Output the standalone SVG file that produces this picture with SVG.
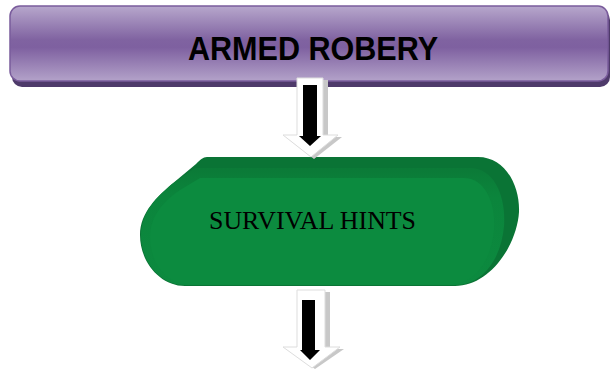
<svg xmlns="http://www.w3.org/2000/svg" width="610" height="369" viewBox="0 0 610 369">
<defs>
<linearGradient id="purple" x1="0" y1="0" x2="0" y2="1">
<stop offset="0" stop-color="#b7a7cc"/>
<stop offset="0.45" stop-color="#8063a1"/>
<stop offset="0.55" stop-color="#7e60a0"/>
<stop offset="1" stop-color="#b3a2c9"/>
</linearGradient>
<linearGradient id="green" x1="0" y1="0" x2="0" y2="1">
<stop offset="0" stop-color="#0b7a37"/>
<stop offset="0.25" stop-color="#0b853c"/>
<stop offset="1" stop-color="#0c8a3f"/>
</linearGradient>
<style>
.outer{fill:#ffffff;stroke:#dddddd;stroke-width:1}
.shade{fill:#c8c8c8}
.inner{fill:#000000}
</style>
</defs>
<g id="node-armed-robery">
<rect x="12" y="10" width="598" height="77" rx="10" fill="#4e3a6a"/>
<rect x="10" y="6" width="598" height="75" rx="10" fill="url(#purple)" stroke="#7a5c9c" stroke-width="1.5"/>
<text x="313" y="60" font-family="Liberation Sans, Arial, sans-serif" font-weight="bold" font-size="33" text-anchor="middle" textLength="250" lengthAdjust="spacingAndGlyphs" fill="#000000">ARMED ROBERY</text>
</g>
<g id="node-survival-hints">
<path d="M207,157 L478,157 C505,157 520,185 519,212 C517,245 490,286 455,286 L185,286 C160,286 140,262 140,235 C140,212 158,196 172,184 L196,164 C200,160 203,157 207,157 Z" fill="#0a7435"/>
<path d="M195,168 L470,168 C495,168 506,198 504,226 C501,260 482,285 455,285 L185,285 C160,285 141,262 141,235 C141,212 158,196 172,184 Z" fill="url(#green)"/>
<path d="M200,178 L464,178 C486,178 496,205 494,230 C491,262 474,284 452,284 L188,284 C165,284 150,262 150,237 C150,215 165,200 180,190 Z" fill="#0c8b3f"/>
<text x="209" y="229" font-family="Liberation Serif, 'Times New Roman', serif" font-size="25.5" textLength="207" lengthAdjust="spacingAndGlyphs" fill="#000000">SURVIVAL HINTS</text>
</g>
<g id="connectors">
<g id="arrow-1">
<path d="M300,80 L328,80 L328,137 L342,137 L314,159 L286,137 L300,137 Z" class="shade"/>
<path d="M297,78 L323,78 L323,135 L338,135 L311,157 L283,135 L297,135 Z" class="outer"/>
<path d="M303,85 L317,85 L317,136 L321,136 L310,146 L299,136 L303,136 Z" class="inner"/>
</g>
<g id="arrow-2">
<path d="M301,292 L330,292 L330,349 L344,349 L315,369 L287,349 L301,349 Z" class="shade"/>
<path d="M297,290 L325,290 L325,347 L340,347 L312,368 L283,347 L297,347 Z" class="outer"/>
<path d="M302,300 L315,300 L315,350 L320,350 L310,360 L300,350 L302,350 Z" class="inner"/>
</g>
</g>
</svg>
